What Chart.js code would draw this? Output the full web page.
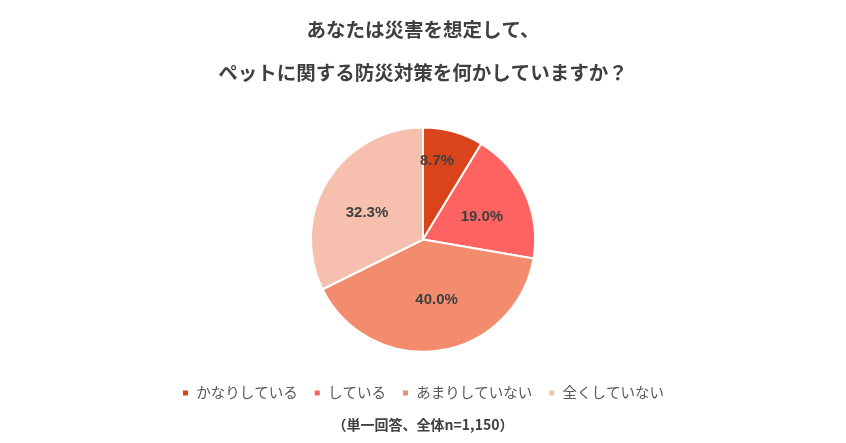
<!DOCTYPE html>
<html lang="ja">
<head>
  <meta charset="UTF-8" />
  <title>ペットの防災対策</title>
  <script src="https://cdn.jsdelivr.net/npm/chart.js"></script>
  <style>
    body { margin: 0; background: #fff; }
    #wrap { width: 846px; height: 443px; }
  </style>
</head>
<body>
  <div id="wrap"><canvas id="grafico"></canvas></div>

  <script>
    const titulo = ["あなたは災害を想定して、", "ペットに関する防災対策を何かしていますか？"];
    const categorias = ["かなりしている", "している", "あまりしていない", "全くしていない"];
    const valores = [8.7, 19.0, 40.0, 32.3];
    const nota = "（単一回答、全体n=1,150）";

    // estilo dos rótulos (fração do raio e ajuste de ângulo em graus)
    const cores = ["#D9441A", "#FE6361", "#F28C6C", "#F7C0AE"];
    const raioRotulo = [0.71, 0.565, 0.55, 0.555];
    const ajusteAngulo = [-5.5, 3, -4.5, -6];
    const fonteJP = "'Noto Sans CJK JP', 'Noto Sans', sans-serif";

    const rotulos = {
      id: "rotulos",
      afterDatasetsDraw(chart) {
        const ctx = chart.ctx;
        const meta = chart.getDatasetMeta(0);
        ctx.save();
        ctx.font = "bold 15px 'Liberation Sans', Arial, sans-serif";
        ctx.fillStyle = "#404040";
        ctx.textAlign = "center";
        ctx.textBaseline = "middle";
        meta.data.forEach((arc, i) => {
          const p = arc.getProps(["x", "y", "startAngle", "endAngle", "outerRadius"], true);
          const meio = (p.startAngle + p.endAngle) / 2 + ajusteAngulo[i] * Math.PI / 180;
          const r = p.outerRadius * raioRotulo[i];
          ctx.fillText(valores[i].toFixed(1) + "%", p.x + Math.cos(meio) * r, p.y + Math.sin(meio) * r);
        });
        ctx.restore();
      }
    };

    new Chart(document.getElementById("grafico"), {
      type: "pie",
      data: {
        labels: categorias,
        datasets: [{ data: valores, backgroundColor: cores, borderColor: "#fff", borderWidth: 2 }]
      },
      options: {
        responsive: true,
        maintainAspectRatio: false,
        animation: false,
        layout: { padding: { bottom: 4 } },
        plugins: {
          tooltip: { enabled: false },
          title: {
            display: true,
            text: titulo,
            color: "#404040",
            font: { family: fonteJP, size: 19.5, weight: "bold", lineHeight: "43px" },
            padding: { top: 8.5, bottom: 32 }
          },
          legend: {
            position: "bottom",
            title: { display: true, text: " ", font: { size: 17, lineHeight: 1 }, padding: 0 },
            labels: {
              boxWidth: 7,
              boxHeight: 7,
              padding: 16,
              color: "#595959",
              font: { family: fonteJP, size: 14.5 }
            }
          },
          subtitle: {
            display: true,
            position: "bottom",
            text: nota,
            color: "#404040",
            font: { family: fonteJP, size: 14, weight: "bold" },
            padding: { top: 6, bottom: 6 }
          }
        }
      },
      plugins: [rotulos]
    });
  </script>
</body>
</html>
